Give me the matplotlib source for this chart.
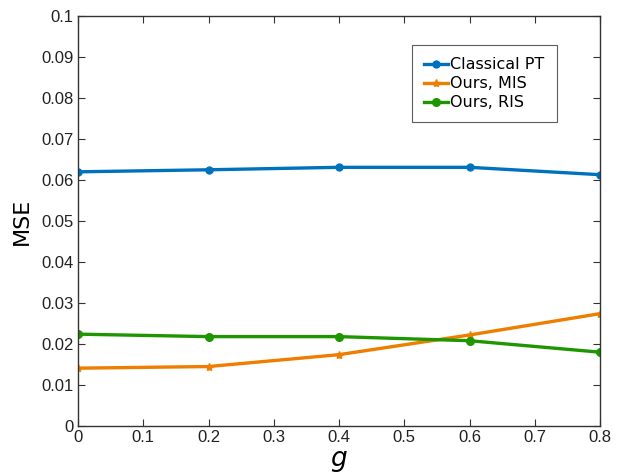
import matplotlib
matplotlib.use("Agg")
import matplotlib.pyplot as plt

g = [0, 0.2, 0.4, 0.6, 0.8]
classical_pt = [0.0620, 0.0625, 0.0631, 0.0631, 0.0613]
ours_mis = [0.0141, 0.0145, 0.0174, 0.0222, 0.0274]
ours_ris = [0.0224, 0.0218, 0.0218, 0.0208, 0.0180]

plt.rcParams['font.family'] = ['Liberation Sans', 'DejaVu Sans']

fig = plt.figure(figsize=(6.2, 4.75), dpi=100)
ax = fig.add_axes([0.1258, 0.1032, 0.842, 0.863])

ax.plot(g, classical_pt, color='#0072BD', lw=2.4, marker='o', ms=5, label='Classical PT')
ax.plot(g, ours_mis, color='#EE7D00', lw=2.4, marker='*', ms=6, label='Ours, MIS')
ax.plot(g, ours_ris, color='#1E9600', lw=2.4, marker='o', ms=5.5, label='Ours, RIS')

ax.set_xlim(0, 0.8)
ax.set_ylim(0, 0.1)
ax.set_xticks([0, 0.1, 0.2, 0.3, 0.4, 0.5, 0.6, 0.7, 0.8])
ax.set_xticklabels(['0', '0.1', '0.2', '0.3', '0.4', '0.5', '0.6', '0.7', '0.8'])
ax.set_yticks([i / 100 for i in range(11)])
ax.set_yticklabels(['0'] + ['%.2f' % (i / 100) for i in range(1, 10)] + ['0.1'])
ax.tick_params(direction='in', top=True, right=True, labelsize=12, length=5, width=0.8,
               colors='#333333', labelcolor='#222222', pad=3)
for s in ax.spines.values():
    s.set_linewidth(1.0)
    s.set_color('#333333')

ax.set_xlabel('$g$', fontsize=19, labelpad=2.5)
ax.set_ylabel('MSE', fontsize=16, labelpad=7, family=['DejaVu Sans'])

leg = ax.legend(loc='upper left', bbox_to_anchor=(0.640, 0.929),
                prop={'family': 'DejaVu Sans', 'size': 11.5},
                frameon=True, fancybox=False, edgecolor='#333333',
                handlelength=1.5, handletextpad=0.15, borderpad=0.75, labelspacing=0.25,
                borderaxespad=0)
leg.get_frame().set_linewidth(0.8)

fig.savefig('out.png', dpi=100)
